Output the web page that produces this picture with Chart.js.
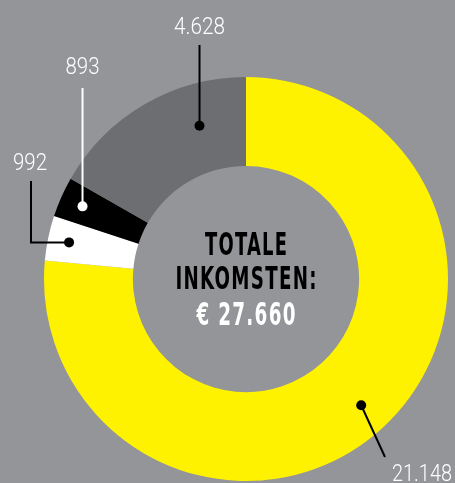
<!DOCTYPE html>
<html>
<head>
<meta charset="utf-8">
<script src="https://cdn.jsdelivr.net/npm/chart.js@4/dist/chart.umd.min.js"></script>
<style>
  html, body { margin: 0; padding: 0; background: #939598; }
  #wrap { width: 455px; height: 483px; position: relative; }
</style>
</head>
<body>
<div id="wrap"><canvas id="c"></canvas></div>
<script>
// ---- data ----
const categories = ["Yellow", "White", "Black", "Gray"];
const values = [21148, 992, 893, 4628];
const colors = ["#fff200", "#ffffff", "#000000", "#6d6e71"];
const centerLines = ["TOTALE", "INKOMSTEN:"];
const currency = "€";
const statedTotal = 27660; // total as printed in the chart

const fmt = v => v.toLocaleString('nl-NL');

const NUM_FONT = '300 24px Roboto, "DejaVu Sans Condensed", sans-serif';
const CENTER_FONT = 'bold 32px "DejaVu Sans Condensed", "Liberation Sans", sans-serif';

function drawFit(ctx, text, x, y, width, font, color, align, spacing) {
  ctx.save();
  ctx.font = font;
  ctx.letterSpacing = (spacing || 0) + 'px';
  ctx.fillStyle = color;
  ctx.textBaseline = 'alphabetic';
  ctx.textAlign = 'left';
  const w = ctx.measureText(text).width - (spacing || 0);
  const s = width / w;
  const left = align === 'center' ? x - width / 2 : (align === 'right' ? x - width : x);
  ctx.translate(left, y);
  ctx.scale(s, 1);
  ctx.fillText(text, 0, 0);
  ctx.restore();
}

function dotAt(arc, frac, rfrac) {
  const a = arc.startAngle + (arc.endAngle - arc.startAngle) * frac;
  const r = arc.innerRadius + (arc.outerRadius - arc.innerRadius) * rfrac;
  return { x: arc.x + r * Math.cos(a), y: arc.y + r * Math.sin(a) };
}

function dot(ctx, p, color) {
  ctx.beginPath();
  ctx.arc(p.x, p.y, 5, 0, Math.PI * 2);
  ctx.fillStyle = color;
  ctx.fill();
}

const labelPlugin = {
  id: 'labels',
  afterDraw(chart) {
    const ctx = chart.ctx;
    const arcs = chart.getDatasetMeta(0).data;
    ctx.save();
    ctx.lineWidth = 2;

    // center text
    const cx = arcs[0].x;
    drawFit(ctx, centerLines[0], cx, 255, 82, CENTER_FONT, '#000', 'center', 2);
    drawFit(ctx, centerLines[1], cx, 289, 141, CENTER_FONT, '#000', 'center', 2);
    drawFit(ctx, currency + ' ' + fmt(statedTotal), cx, 325, 99, CENTER_FONT, '#fff', 'center', 2);

    // yellow label
    let p = dotAt(arcs[0], 0.5, 0.65);
    ctx.strokeStyle = '#000';
    ctx.beginPath(); ctx.moveTo(p.x, p.y); ctx.lineTo(385, 457); ctx.stroke();
    dot(ctx, p, '#000');
    drawFit(ctx, fmt(values[0]), 452, 481, 60, NUM_FONT, '#fff', 'right');

    // white label
    p = dotAt(arcs[1], 0.5, 0.76);
    ctx.strokeStyle = '#000';
    ctx.beginPath(); ctx.moveTo(p.x, p.y); ctx.lineTo(31, p.y); ctx.lineTo(31, 181); ctx.stroke();
    dot(ctx, p, '#000');
    drawFit(ctx, fmt(values[1]), 30, 170, 34, NUM_FONT, '#fff', 'center');

    // black label
    p = dotAt(arcs[2], 0.5, 0.74);
    ctx.strokeStyle = '#fff';
    ctx.beginPath(); ctx.moveTo(p.x, p.y); ctx.lineTo(p.x, 88); ctx.stroke();
    dot(ctx, p, '#fff');
    drawFit(ctx, fmt(values[2]), p.x, 74, 34, NUM_FONT, '#fff', 'center');

    // gray label
    p = dotAt(arcs[3], 0.72, 0.53);
    ctx.strokeStyle = '#000';
    ctx.beginPath(); ctx.moveTo(p.x, p.y); ctx.lineTo(p.x, 45); ctx.stroke();
    dot(ctx, p, '#000');
    drawFit(ctx, fmt(values[3]), p.x, 34, 51, NUM_FONT, '#fff', 'center');

    ctx.restore();
  }
};

new Chart(document.getElementById('c'), {
  type: 'doughnut',
  data: {
    labels: categories,
    datasets: [{
      data: values,
      backgroundColor: colors,
      borderWidth: 0,
      hoverOffset: 0,
      offset: 0,
      spacing: 0
    }]
  },
  options: {
    responsive: true,
    maintainAspectRatio: false,
    animation: false,
    cutout: '56%',
    rotation: 0,
    layout: { padding: { left: 44, top: 77, right: 7, bottom: 2 } },
    plugins: {
      legend: { display: false },
      tooltip: { enabled: false }
    },
    events: []
  },
  plugins: [labelPlugin]
});
</script>
</body>
</html>
